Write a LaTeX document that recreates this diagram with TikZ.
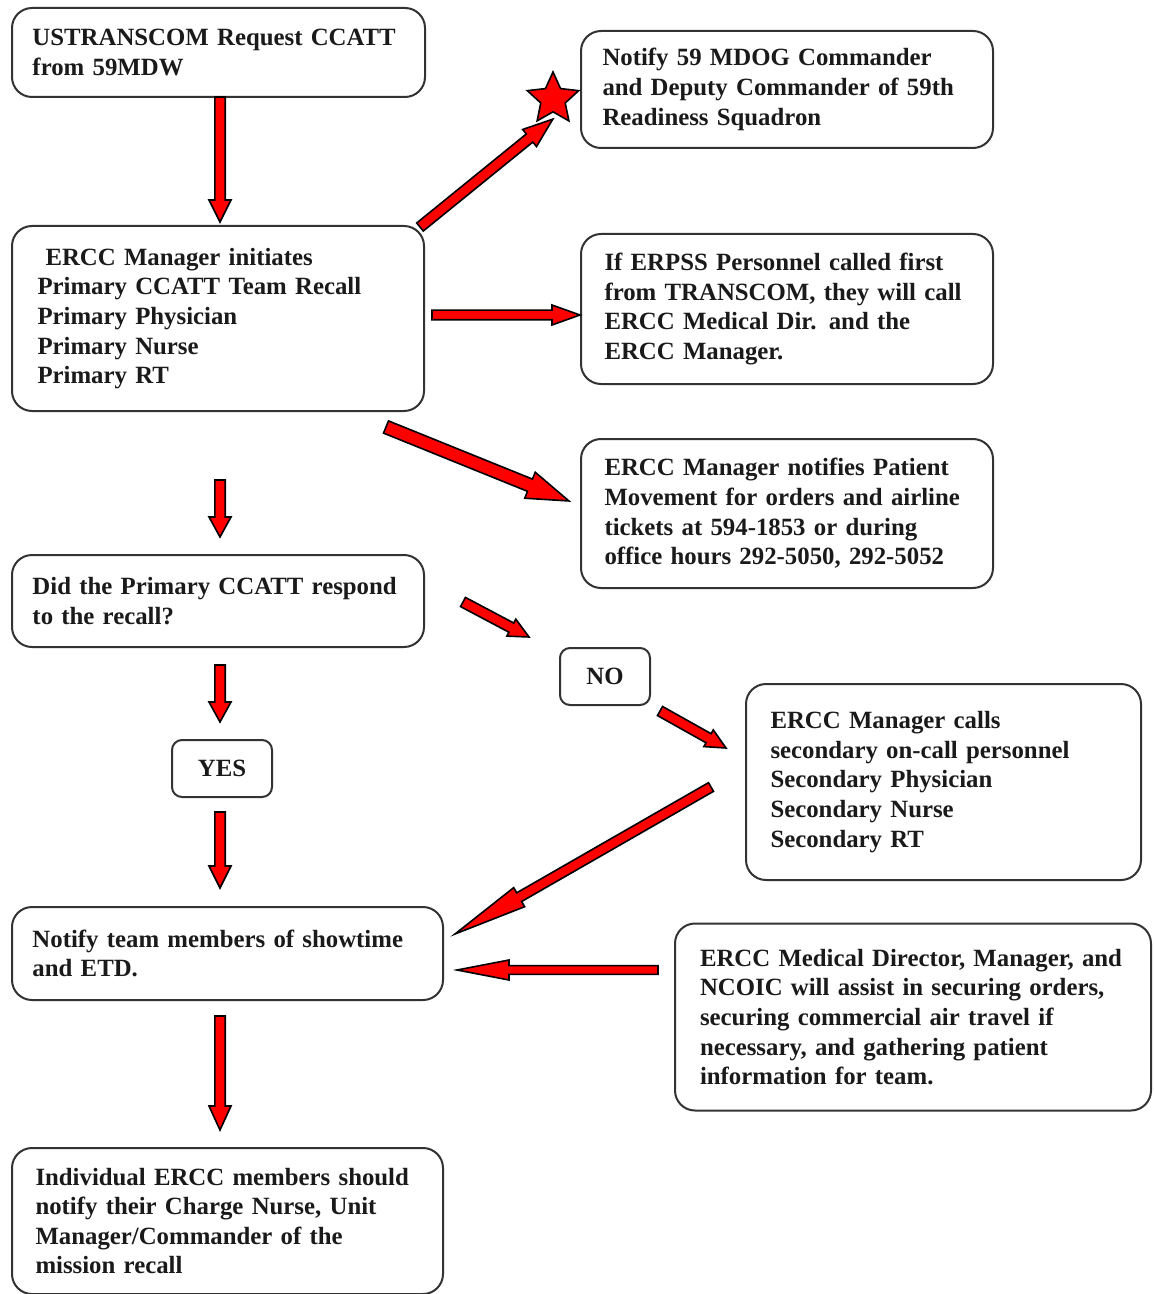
\documentclass[tikz,border=0pt]{standalone}
\usepackage{fontspec}
\setmainfont{Liberation Serif}
\usetikzlibrary{shapes.geometric}
\definecolor{boxline}{HTML}{333333}
\definecolor{txt}{HTML}{1A1A1A}
\tikzset{
  box/.style={draw=boxline, line width=1pt, rounded corners=10pt, inner sep=0pt,
    align=left, text=txt, font=\fontsize{12.4}{14.8}\selectfont\bfseries},
  smallbox/.style={box, rounded corners=5pt, align=center},
  arrowstyle/.style={fill=red, draw=black, line width=0.8pt, line join=miter},
}
% \blockarr{start}{end}{shaft half width}{head half width}{head length}
\newcommand\blockarr[5]{%
  \path (#1); \pgfgetlastxy{\bax}{\bay}%
  \path (#2); \pgfgetlastxy{\bbx}{\bby}%
  \pgfmathsetmacro\baang{atan2(\bby-\bay,\bbx-\bax)}%
  \pgfmathsetmacro\balen{veclen(\bbx-\bax,\bby-\bay)}%
  \filldraw[arrowstyle, shift={(\bax,\bay)}, rotate=\baang]
    (0pt,-#3) -- ({\balen pt-#5},-#3) -- ({\balen pt-#5},-#4) -- (\balen pt,0pt)
    -- ({\balen pt-#5},#4) -- ({\balen pt-#5},#3) -- (0pt,#3) -- cycle;%
}
\begin{document}
\begin{tikzpicture}[x=0.5pt,y=-0.5pt]
\useasboundingbox (0,0) rectangle (1153,1294);
\fill[white] (0,0) rectangle (1153,1294);

\node[box, minimum width=206.5pt, minimum height=44.5pt, text width=186pt] (ustc) at (218.5,52.5)
  {USTRANSCOM Request CCATT\\from 59MDW};
\node[box, minimum width=206pt, minimum height=58.5pt, text width=184.5pt] (mdog) at (787,89.5)
  {Notify 59 MDOG Commander\\and Deputy Commander of 59th\\Readiness Squadron};
\node[box, minimum width=206pt, minimum height=92.5pt, text width=180.5pt] (init) at (218,318.5)
  {\hspace*{4pt}ERCC Manager initiates\\Primary CCATT Team Recall\\Primary Physician\\Primary Nurse\\Primary RT};
\node[box, minimum width=206pt, minimum height=75pt, text width=182.5pt] (erpss) at (787,309)
  {If ERPSS Personnel called first\\from TRANSCOM, they will call\\ERCC Medical Dir. and the\\ERCC Manager.};
\node[box, minimum width=206pt, minimum height=74.5pt, text width=182.5pt] (pm) at (787,513.5)
  {ERCC Manager notifies Patient\\Movement for orders and airline\\tickets at 594-1853 or during\\office hours 292-5050, 292-5052};
\node[box, minimum width=206pt, minimum height=46pt, text width=185.5pt] (did) at (218,601)
  {Did the Primary CCATT respond\\to the recall?};
\node[smallbox, minimum width=45pt, minimum height=28.5pt] (no) at (605,676.5) {NO};
\node[box, minimum width=197.5pt, minimum height=98pt, text width=173pt] (sec) at (943.5,782)
  {ERCC Manager calls\\secondary on-call personnel\\Secondary Physician\\Secondary Nurse\\Secondary RT};
\node[smallbox, minimum width=50pt, minimum height=28.5pt] (yes) at (222,768.5) {YES};
\node[box, minimum width=215.5pt, minimum height=46.5pt, text width=195pt] (team) at (227.5,953.5)
  {Notify team members of showtime\\and ETD.};
\node[box, minimum width=238pt, minimum height=93.5pt, text width=213pt] (med) at (913,1017)
  {ERCC Medical Director, Manager, and\\NCOIC will assist in securing orders,\\securing commercial air travel if\\necessary, and gathering patient\\information for team.};
\node[box, minimum width=215.5pt, minimum height=73pt, text width=192pt] (indiv) at (227.5,1221)
  {Individual ERCC members should\\notify their Charge Nurse, Unit\\Manager/Commander of the\\mission recall};

\node[star, star points=5, star point ratio=2.1, fill=red, draw=black, line width=0.8pt,
  minimum size=27pt, inner sep=0pt] (star) at (553,99) {};

% arrow end points
\coordinate (a1s) at (220,97);   \coordinate (a1e) at (220,222);
\coordinate (a2s) at (420,227);  \coordinate (a2e) at (553,119);
\coordinate (a3s) at (432,315);  \coordinate (a3e) at (580,315);
\coordinate (a4s) at (386,427);  \coordinate (a4e) at (569,501);
\coordinate (a5s) at (220,480);  \coordinate (a5e) at (220,537);
\coordinate (a6s) at (463,602);  \coordinate (a6e) at (529,637);
\coordinate (a7s) at (220,665);  \coordinate (a7e) at (220,722);
\coordinate (a8s) at (660,711);  \coordinate (a8e) at (726,748);
\coordinate (a9s) at (711,787);  \coordinate (a9e) at (455,934);
\coordinate (a10s) at (658,970); \coordinate (a10e) at (457,970);
\coordinate (a11s) at (220,1016); \coordinate (a11e) at (220,1130);
\coordinate (a12s) at (220,812); \coordinate (a12e) at (220,888);

\blockarr{a1s}{a1e}{2.6pt}{5.5pt}{11pt}
\blockarr{a2s}{a2e}{2.6pt}{5.5pt}{15pt}
\blockarr{a3s}{a3e}{2.4pt}{5pt}{14pt}
\blockarr{a4s}{a4e}{3.3pt}{7pt}{21pt}
\blockarr{a5s}{a5e}{2.6pt}{5.5pt}{10pt}
\blockarr{a6s}{a6e}{2.6pt}{4.8pt}{10pt}
\blockarr{a7s}{a7e}{2.6pt}{5.5pt}{10pt}
\blockarr{a8s}{a8e}{2.6pt}{4.8pt}{10pt}
\blockarr{a9s}{a9e}{2.5pt}{5.5pt}{37pt}
\blockarr{a10s}{a10e}{2.2pt}{5pt}{26pt}
\blockarr{a11s}{a11e}{2.6pt}{5.5pt}{12pt}
\blockarr{a12s}{a12e}{2.6pt}{5.5pt}{11pt}
\end{tikzpicture}
\end{document}
